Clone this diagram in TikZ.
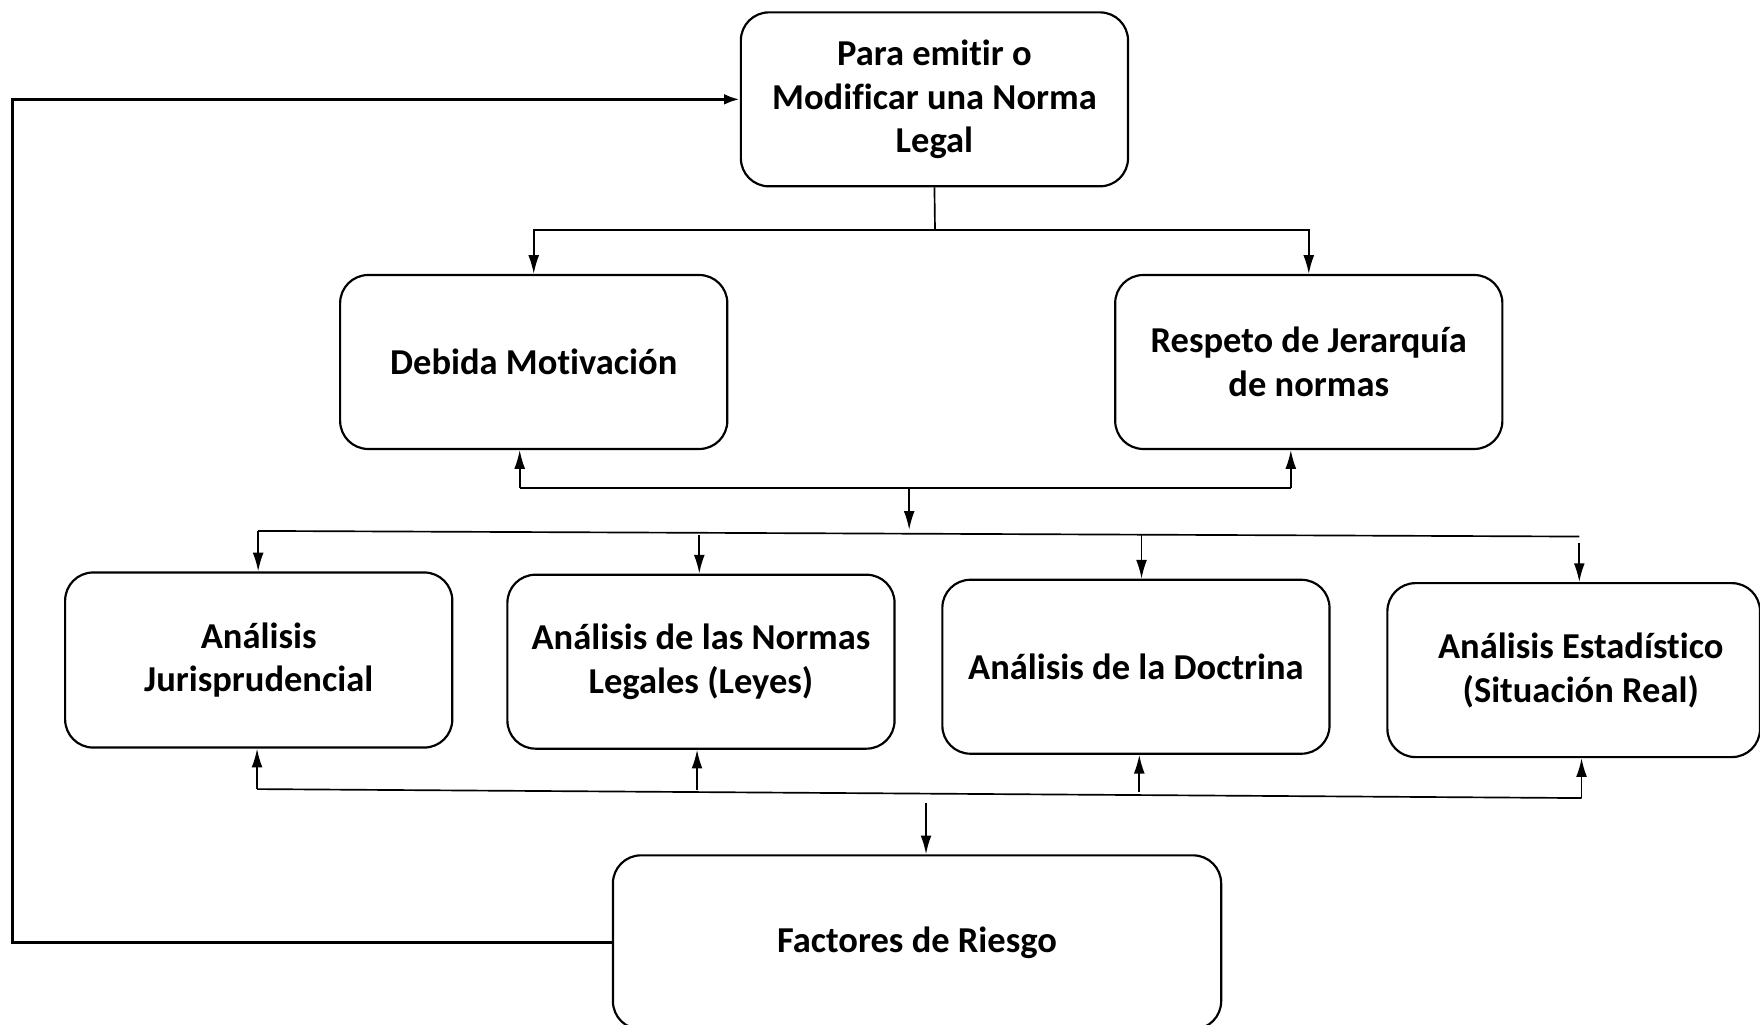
\documentclass[tikz,border=0pt]{standalone}
\usepackage{fontspec}
\setmainfont[Ligatures={NoCommon}]{Carlito}
\usetikzlibrary{arrows.meta}
\begin{document}
\begin{tikzpicture}[x=0.02cm,y=-0.02cm,
 box/.style={draw, line width=1.1pt, rounded corners=0.5cm, minimum width=6.9cm, minimum height=3.1cm, align=center, font=\fontsize{18.5}{22.2}\selectfont\bfseries, inner sep=0pt},
 conn/.style={line width=0.85pt},
 arr/.style={line width=0.85pt, -{Latex[length=9.5pt,width=5.5pt]}},
 fback/.style={line width=1.7pt, -{Latex[length=8pt,width=5.5pt]}},
]
\useasboundingbox (0,0) rectangle (1568,913);
% boxes
\node[box] (top) at (832.5,88.5) {Para emitir o\\Modificar una Norma\\Legal};
\node[box] (deb) at (475.5,322.5) {Debida Motivación};
\node[box] (res) at (1166,322.5) {Respeto de Jerarquía\\de normas};
\node[box, minimum height=3.12cm] (jur) at (230.5,588) {Análisis\\Jurisprudencial};
\node[box] (nor) at (624.5,589.5) {Análisis de las Normas\\Legales (Leyes)};
\node[box] (doc) at (1012,594) {Análisis de la Doctrina};
\node[box, minimum width=6.64cm] (est) at (1402,597) {\hspace*{0.25cm}Análisis Estadístico\\\hspace*{0.25cm}(Situación Real)};
\node[box, minimum width=10.84cm] (fac) at (817,839.5) {Factores de Riesgo};
% top to second row
\coordinate (j1) at (833,205);
\draw[conn] (top.south) -- (j1);
\draw[arr] (j1) -| (deb.north);
\draw[arr] (j1) -| (res.north);
% second row to middle junction
\coordinate (b1) at (463,435);
\coordinate (b2) at (1150,435);
\coordinate (bm) at (810,435);
\draw[conn] (b1) -- (b2);
\draw[arr] (b1) -- (b1 |- deb.south);
\draw[arr] (b2) -- (b2 |- res.south);
\coordinate (m1) at (230,473);
\coordinate (m4) at (1407,478);
\draw[arr] (bm) -- (810,472);
\draw[conn] (m1) -- (m4);
\draw[arr] (m1) -- (jur.north -| m1);
\draw[arr] (623,477) -- (nor.north -| 623,0);
\draw[arr] (1017,477) -- (doc.north -| 1017,0);
\draw[arr] (1407,484) -- (est.north -| 1407,0);
% bottom junction
\coordinate (n1) at (229,703);
\coordinate (n4) at (1409,711);
\draw[conn] (n1) -- (n4);
\draw[arr] (n1) -- (jur.south -| n1);
\draw[arr] (621,704) -- (nor.south -| 621,0);
\draw[arr] (1015,706) -- (doc.south -| 1015,0);
\draw[arr] (n4) -- (est.south -| n4);
\coordinate (fd) at (825,715);
\draw[arr] (fd) -- (fac.north -| fd);
% feedback
\coordinate (fb) at (11,839.5);
\draw[fback] (fac.west) -- (fb) |- (top.west);
\end{tikzpicture}
\end{document}
